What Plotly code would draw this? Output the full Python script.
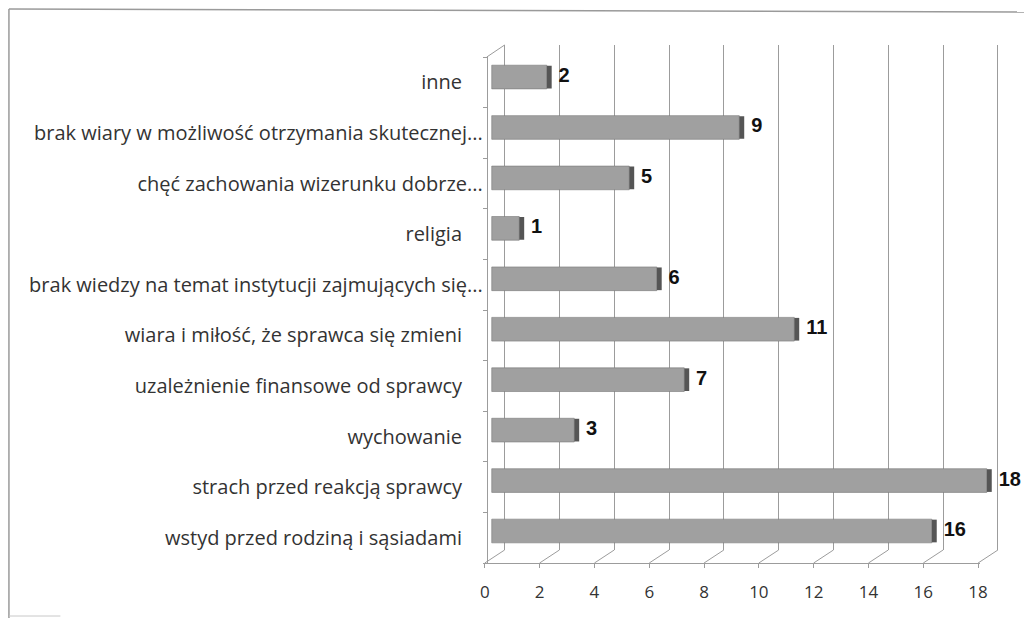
import plotly.graph_objects as go

# ---- data (bottom -> top, as in the chart) ----
categories = [
    "wstyd przed rodziną i sąsiadami",
    "strach przed reakcją sprawcy",
    "wychowanie",
    "uzależnienie finansowe od sprawcy",
    "wiara i miłość, że sprawca się zmieni",
    "brak wiedzy na temat instytucji zajmujących się...",
    "religia",
    "chęć zachowania wizerunku dobrze...",
    "brak wiary w możliwość otrzymania skutecznej...",
    "inne",
]
values = [16, 18, 3, 7, 11, 6, 1, 5, 9, 2]
x_ticks = [0, 2, 4, 6, 8, 10, 12, 14, 16, 18]

# ---- geometry / style constants ----
W, H = 1032, 618
UNIT_F = 27.7        # px per unit on the front plane
UNIT_B = 27.8        # px per unit on bars
UNIT_K = 27.7        # px per unit on the back wall
FRONT0 = 487         # px of value 0 on the front (tick-label) plane
BAR0 = 494           # px of value 0 for bar fronts
BACK0 = 507          # px of value 0 on the back wall
PLOT_L, PLOT_R = 487, 1030
BACK_TOP, BACK_BOT = 45, 550
FRONT_TOP, FRONT_BOT = 57, 563
ROW = 50.44
ROW0_Y = 531         # px centre of bottom bar
SIDE = 5 / UNIT_B    # depth of bar side face in data units
GAP = 7 / UNIT_B
PAD = "\u00a0" * 4   # right padding for labels without ellipsis

def fx(p):
    return p / W

def fy(p):
    return 1 - p / H

n = len(categories)
idx = list(range(n))
tick_text = [c if c.endswith("...") else c + PAD for c in categories]

fig = go.Figure()

# front face of bars
fig.add_trace(go.Bar(
    y=idx, x=values, orientation="h", width=0.47,
    marker=dict(color="#a0a0a0", line=dict(color="#787878", width=0.6)),
    xaxis="x", yaxis="y", hoverinfo="skip", showlegend=False,
))
# dark side face at the end of each bar
fig.add_trace(go.Bar(
    y=idx, x=[SIDE] * n, base=values, orientation="h", width=0.45,
    marker=dict(color="#555555", line=dict(width=0)),
    xaxis="x", yaxis="y", hoverinfo="skip", showlegend=False,
))
# value labels
fig.add_trace(go.Scatter(
    y=idx, x=[v + SIDE + GAP for v in values], mode="text",
    text=[str(v) for v in values], textposition="middle right",
    textfont=dict(family="Liberation Sans", size=20, color="#111111", weight="bold"),
    xaxis="x", yaxis="y", cliponaxis=False, hoverinfo="skip", showlegend=False,
))
# invisible helpers so the other axes render
fig.add_trace(go.Scatter(x=[None], y=[None], xaxis="x3", yaxis="y",
                         hoverinfo="skip", showlegend=False))
fig.add_trace(go.Scatter(x=[None], y=[None], xaxis="x2", yaxis="y2",
                         hoverinfo="skip", showlegend=False))

grid_col = "#9c9c9c"

# floor diagonals (front tick -> back gridline) and wall edges
shapes = []
for v in x_ticks:
    shapes.append(dict(
        type="line", xref="paper", yref="paper",
        x0=fx(FRONT0 + UNIT_F * v), y0=fy(FRONT_BOT),
        x1=fx(BACK0 + UNIT_K * v), y1=fy(BACK_BOT),
        line=dict(color=grid_col, width=1),
    ))
# top of left wall
shapes.append(dict(type="line", xref="paper", yref="paper",
                   x0=fx(FRONT0 + 2), y0=fy(FRONT_TOP), x1=fx(BACK0), y1=fy(BACK_TOP),
                   line=dict(color=grid_col, width=1)))
# scanned frame
frame_col = "#9a9a9a"
shapes.append(dict(type="line", xref="paper", yref="paper",
                   x0=fx(6), y0=fy(9), x1=fx(1032), y1=fy(12),
                   line=dict(color=frame_col, width=1.5)))
shapes.append(dict(type="line", xref="paper", yref="paper",
                   x0=fx(6), y0=fy(9), x1=fx(6), y1=fy(618),
                   line=dict(color=frame_col, width=1.5)))
shapes.append(dict(type="line", xref="paper", yref="paper",
                   x0=fx(6), y0=fy(616), x1=fx(58), y1=fy(616),
                   line=dict(color="#c8c8c8", width=1)))

fig.update_layout(
    width=W, height=H,
    margin=dict(l=0, r=0, t=0, b=0),
    paper_bgcolor="white",
    plot_bgcolor="rgba(0,0,0,0)",
    barmode="overlay",
    font=dict(family="Open Sans", color="#333333"),
    shapes=shapes,
    # bars
    xaxis=dict(
        domain=[fx(PLOT_L), fx(PLOT_R)],
        range=[(PLOT_L - BAR0) / UNIT_B, (PLOT_R - BAR0) / UNIT_B],
        showgrid=False, zeroline=False, showline=False,
        showticklabels=False, ticks="", anchor="y",
    ),
    yaxis=dict(
        domain=[fy(BACK_BOT), fy(BACK_TOP)],
        range=[-(BACK_BOT - ROW0_Y) / ROW, (n - 1) + (ROW0_Y - (n - 1) * ROW - BACK_TOP) / ROW],
        showgrid=False, zeroline=False, showline=False,
        showticklabels=False, ticks="", anchor="x",
    ),
    # back wall gridlines
    xaxis3=dict(
        overlaying="x", anchor="y",
        range=[(PLOT_L - BACK0) / UNIT_K, (PLOT_R - BACK0) / UNIT_K],
        tickmode="array", tickvals=x_ticks,
        showgrid=True, gridcolor=grid_col, gridwidth=1,
        zeroline=False, showline=False, showticklabels=False, ticks="",
    ),
    # front tick axis
    xaxis2=dict(
        domain=[fx(FRONT0 - 2), fx(FRONT0 + UNIT_F * 18 + 2)],
        range=[-2 / UNIT_F, 18 + 2 / UNIT_F],
        anchor="free", position=fy(FRONT_BOT),
        tickmode="array", tickvals=x_ticks, ticktext=[str(t) for t in x_ticks],
        showgrid=False, zeroline=False,
        showline=True, linecolor=grid_col, linewidth=1,
        ticks="outside", ticklen=4, tickcolor=grid_col,
        ticklabelstandoff=10,
        tickfont=dict(family="Open Sans", size=17, color="#333333"),
    ),
    # front category axis (left wall edge)
    yaxis2=dict(
        domain=[fy(FRONT_BOT), fy(FRONT_TOP)],
        range=[-0.5, n - 0.5],
        anchor="free", position=fx(FRONT0 + 2),
        tickmode="array", tickvals=idx, ticktext=tick_text,
        showgrid=False, zeroline=False,
        showline=True, linecolor=grid_col, linewidth=1,
        ticks="", ticklabelstandoff=0,
        minor=dict(tickmode="linear", tick0=-0.5, dtick=1, ticks="outside",
                   ticklen=4, tickcolor=grid_col),
        tickfont=dict(family="Open Sans", size=20, color="#333333"),
    ),
)

fig.write_html(
    "out.html",
    config={"displayModeBar": False},
    post_script="document.body.style.margin='0';document.body.style.overflow='hidden';",
)
